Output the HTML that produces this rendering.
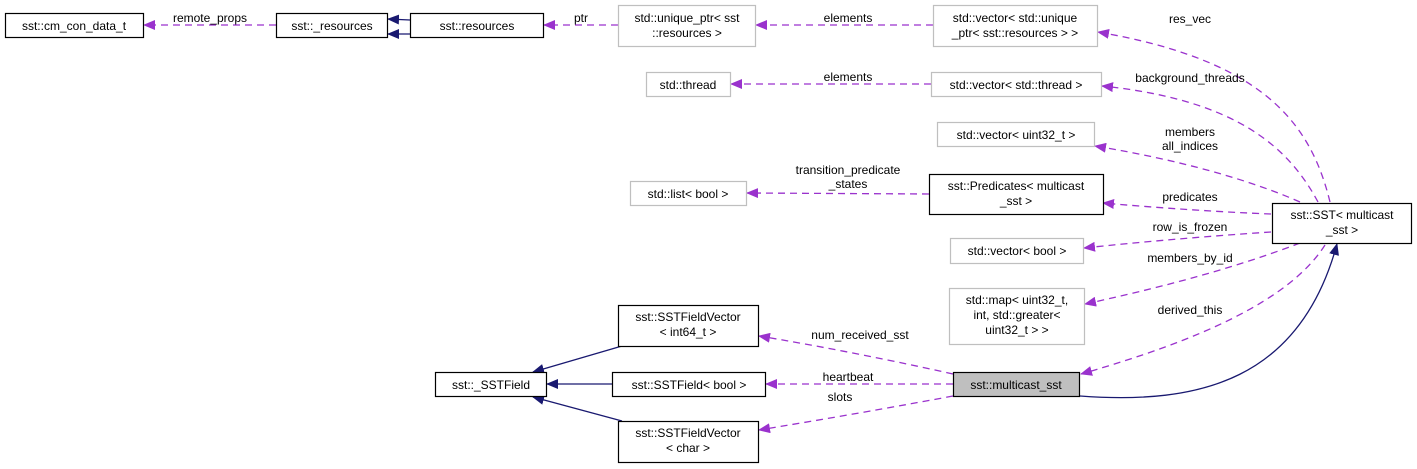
<!DOCTYPE html>
<html><head><meta charset="utf-8"><style>
html,body{margin:0;padding:0;background:#fff;}
svg{display:block;}
text{font-family:"Liberation Sans",sans-serif;font-size:12px;fill:#000;}
</style></head><body>
<svg width="1417" height="469" viewBox="0 0 1417 469" xmlns="http://www.w3.org/2000/svg">
<defs>
<marker id="p" markerWidth="12" markerHeight="10" refX="11" refY="5" orient="auto" markerUnits="userSpaceOnUse"><path d="M0,0 L12,5 L0,10 Z" fill="#9a32cd"/></marker>
<marker id="n" markerWidth="12" markerHeight="10" refX="11" refY="5" orient="auto" markerUnits="userSpaceOnUse"><path d="M0,0 L12,5 L0,10 Z" fill="#191970"/></marker>
</defs>
<g fill="none" stroke="#9a32cd" stroke-width="1.3" stroke-dasharray="7,5" marker-end="url(#p)">
<path d="M276,25 L144,25"/>
<path d="M618,25 L544,25"/>
<path d="M933,25 L756,25"/>
<path d="M931,84 L731,84"/>
<path d="M1330,202 C1310,120 1260,60 1098,32"/>
<path d="M1318,202 C1290,150 1240,100 1102,86"/>
<path d="M1300,202 C1250,180 1180,160 1095,146"/>
<path d="M929,194 L747,193"/>
<path d="M1271,214 C1220,212 1160,208 1103,203"/>
<path d="M1271,232 C1210,236 1140,242 1084,248"/>
<path d="M1300,243 C1230,270 1150,290 1085,304"/>
<path d="M1325,245 C1290,300 1200,340 1081,374"/>
<path d="M953,374 C900,362 820,346 759,336"/>
<path d="M953,384 L766,384"/>
<path d="M953,396 C900,406 820,420 759,430"/>
</g>
<g fill="none" stroke="#191970" stroke-width="1.3" marker-end="url(#n)">
<path d="M410,20 L388,19"/>
<path d="M410,34 L388,34"/>
<path d="M1080,396 C1200,405 1300,380 1337,244"/>
<path d="M622,346 L533,372"/>
<path d="M612,384 L547,384"/>
<path d="M622,421 L533,397"/>
</g>
<g stroke-width="1.2">
<rect x="5.5" y="13.5" width="138" height="24" fill="#fff" stroke="#000"/>
<rect x="276.5" y="13.5" width="111" height="24" fill="#fff" stroke="#000"/>
<rect x="410.5" y="13.5" width="133" height="24" fill="#fff" stroke="#000"/>
<rect x="618.5" y="5.5" width="137" height="41" fill="#fff" stroke="#bfbfbf"/>
<rect x="933.5" y="5.5" width="164" height="41" fill="#fff" stroke="#bfbfbf"/>
<rect x="646.5" y="72.5" width="84" height="24" fill="#fff" stroke="#bfbfbf"/>
<rect x="931.5" y="72.5" width="170" height="24" fill="#fff" stroke="#bfbfbf"/>
<rect x="937.5" y="122.5" width="157" height="24" fill="#fff" stroke="#bfbfbf"/>
<rect x="630.5" y="181.5" width="116" height="24" fill="#fff" stroke="#bfbfbf"/>
<rect x="929.5" y="174.5" width="174" height="40" fill="#fff" stroke="#000"/>
<rect x="1272.5" y="203.5" width="139" height="40" fill="#fff" stroke="#000"/>
<rect x="950.5" y="238.5" width="133" height="25" fill="#fff" stroke="#bfbfbf"/>
<rect x="949.5" y="288.5" width="135" height="56" fill="#fff" stroke="#bfbfbf"/>
<rect x="618.5" y="305.5" width="140" height="41" fill="#fff" stroke="#000"/>
<rect x="435.5" y="372.5" width="111" height="24" fill="#fff" stroke="#000"/>
<rect x="612.5" y="372.5" width="153" height="24" fill="#fff" stroke="#000"/>
<rect x="953.5" y="372.5" width="126" height="24" fill="#bfbfbf" stroke="#000"/>
<rect x="618.5" y="421.5" width="140" height="41" fill="#fff" stroke="#000"/>
</g>
<g text-anchor="middle">
<text x="74" y="30">sst::cm_con_data_t</text>
<text x="332" y="30">sst::_resources</text>
<text x="477" y="30">sst::resources</text>
<text x="687" y="22">std::unique_ptr&lt; sst</text>
<text x="687" y="37">::resources &gt;</text>
<text x="1015" y="22">std::vector&lt; std::unique</text>
<text x="1015" y="37">_ptr&lt; sst::resources &gt; &gt;</text>
<text x="688" y="89">std::thread</text>
<text x="1016" y="89">std::vector&lt; std::thread &gt;</text>
<text x="1016" y="139">std::vector&lt; uint32_t &gt;</text>
<text x="688" y="198">std::list&lt; bool &gt;</text>
<text x="1016" y="190">sst::Predicates&lt; multicast</text>
<text x="1016" y="205">_sst &gt;</text>
<text x="1342" y="219">sst::SST&lt; multicast</text>
<text x="1342" y="234">_sst &gt;</text>
<text x="1017" y="255">std::vector&lt; bool &gt;</text>
<text x="1017" y="304">std::map&lt; uint32_t,</text>
<text x="1017" y="319">int, std::greater&lt;</text>
<text x="1017" y="334">uint32_t &gt; &gt;</text>
<text x="688" y="321">sst::SSTFieldVector</text>
<text x="688" y="336">&lt; int64_t &gt;</text>
<text x="491" y="389">sst::_SSTField</text>
<text x="689" y="389">sst::SSTField&lt; bool &gt;</text>
<text x="1016" y="389">sst::multicast_sst</text>
<text x="688" y="437">sst::SSTFieldVector</text>
<text x="688" y="452">&lt; char &gt;</text>
<text x="210" y="22">remote_props</text>
<text x="581" y="22">ptr</text>
<text x="848" y="22">elements</text>
<text x="848" y="81">elements</text>
<text x="1190" y="23">res_vec</text>
<text x="1190" y="82">background_threads</text>
<text x="1190" y="136">members</text>
<text x="1190" y="150">all_indices</text>
<text x="848" y="174">transition_predicate</text>
<text x="848" y="188">_states</text>
<text x="1190" y="201">predicates</text>
<text x="1190" y="231">row_is_frozen</text>
<text x="1190" y="262">members_by_id</text>
<text x="1190" y="314">derived_this</text>
<text x="860" y="339">num_received_sst</text>
<text x="848" y="381">heartbeat</text>
<text x="840" y="401">slots</text>
</g>
</svg>
</body></html>
